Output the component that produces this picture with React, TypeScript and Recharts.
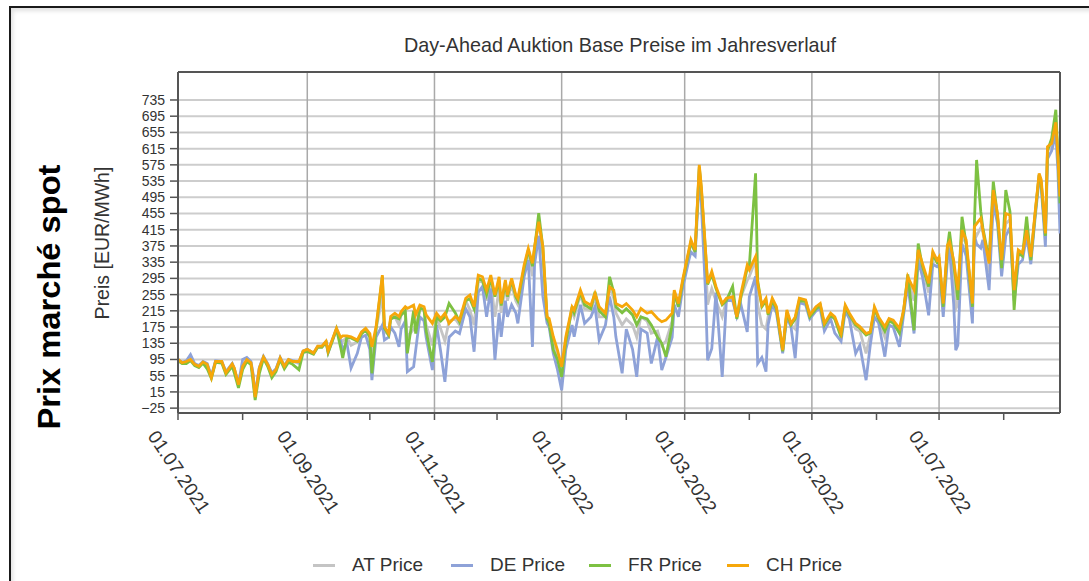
import React from "react";
import {
  LineChart,
  Line,
  XAxis,
  YAxis,
  CartesianGrid,
  ReferenceLine,
} from "recharts";

// days since 01.07.2021
const days = [
  0, 2, 4, 6, 8, 10, 12, 14, 16, 18,
  21, 23, 26, 27, 29, 31, 33, 35, 36, 37,
  39, 41, 43, 45, 47, 49, 51, 53, 55, 58,
  60, 62, 65, 67, 69, 71, 72, 74, 76, 78,
  79, 81, 83, 86, 88, 90, 92, 93, 95, 98,
  99, 101, 102, 104, 106, 107, 109, 110, 113, 114,
  116, 118, 119, 122, 124, 126, 128, 130, 133, 135,
  138, 140, 142, 144, 146, 148, 150, 152, 154, 155,
  157, 158, 160, 162, 163, 166, 168, 170, 171, 173,
  175, 177, 178, 180, 182, 184, 186, 187, 189, 190,
  193, 195, 198, 200, 202, 205, 207, 209, 210, 213,
  215, 218, 220, 222, 225, 227, 230, 232, 234, 237,
  238, 240, 242, 245, 246, 248, 250, 251, 253, 254,
  256, 258, 261, 263, 266, 268, 270, 273, 274, 277,
  278, 280, 282, 283, 285, 287, 290, 292, 294, 296,
  298, 301, 303, 306, 308, 310, 313, 315, 318, 320,
  322, 325, 327, 330, 332, 334, 336, 339, 341, 343,
  346, 348, 350, 353, 355, 357, 360, 362, 364, 365,
  367, 369, 370, 372, 373, 374, 376, 378, 381, 382,
  383, 385, 386, 389, 391, 393, 395, 397, 399, 401,
  403, 405, 407, 409, 411, 413, 414, 416, 417, 419,
  421, 422, 423,
];

const chPrice = [
  95, 87, 90, 95, 83, 78, 89, 83, 50, 90,
  90, 62, 84, 74, 33, 78, 95, 87, 54, 2,
  74, 101, 83, 58, 70, 99, 78, 95, 90, 90,
  116, 120, 111, 128, 128, 140, 116, 144, 172, 149,
  153, 153, 151, 143, 163, 172, 159, 126, 176, 303,
  176, 159, 201, 209, 201, 213, 225, 221, 229, 205,
  229, 225, 205, 184, 209, 196, 209, 184, 201, 192,
  246, 254, 225, 303, 299, 266, 303, 254, 299, 233,
  291, 254, 295, 254, 246, 328, 369, 332, 373, 435,
  373, 200, 196, 151, 118, 77, 151, 176, 225, 217,
  266, 238, 229, 258, 225, 209, 274, 266, 233, 225,
  233, 217, 200, 221, 209, 213, 196, 188, 192, 209,
  266, 233, 291, 365, 390, 365, 575, 521, 365, 283,
  312, 275, 233, 246, 250, 200, 258, 328, 316, 349,
  283, 229, 246, 209, 246, 225, 118, 217, 184, 200,
  246, 242, 205, 225, 233, 184, 209, 200, 159, 229,
  209, 184, 176, 159, 163, 225, 200, 176, 196, 192,
  172, 217, 299, 266, 365, 332, 283, 361, 340, 348,
  233, 377, 386, 340, 300, 266, 414, 390, 233, 423,
  430, 443, 414, 332, 513, 455, 340, 455, 451, 266,
  365, 357, 414, 348, 455, 554, 538, 406, 620, 628,
  680, 595, 497,
];

const frPrice = [
  92, 85, 85, 92, 80, 75, 86, 72, 48, 88,
  86, 58, 78, 62, 25, 70, 90, 82, 40, -5,
  60, 98, 78, 50, 65, 95, 72, 88, 83, 70,
  112, 115, 108, 125, 125, 138, 112, 140, 170, 125,
  99, 150, 148, 140, 158, 168, 150, 61, 170, 300,
  172, 155, 195, 200, 195, 205, 215, 110, 215, 159,
  222, 218, 165, 89, 200, 190, 200, 233, 210, 188,
  240, 245, 220, 295, 290, 255, 295, 250, 290, 228,
  285, 250, 290, 250, 240, 320, 365, 325, 368, 456,
  370, 195, 185, 118, 95, 52, 140, 165, 225, 210,
  260, 230, 220, 262, 215, 200, 299, 260, 225, 210,
  220, 205, 180, 200, 195, 180, 150, 135, 102, 180,
  260, 225, 285, 360, 385, 360, 570, 515, 360, 280,
  305, 270, 230, 240, 275, 195, 250, 320, 325, 554,
  290, 225, 240, 205, 240, 220, 115, 210, 180, 195,
  240, 238, 200, 220, 228, 180, 205, 195, 150, 225,
  205, 180, 172, 155, 160, 220, 195, 165, 190, 185,
  160, 215, 305, 167, 381, 325, 275, 355, 335, 340,
  225, 370, 410, 330, 290, 242, 447, 380, 225, 440,
  587, 460, 420, 340, 534, 450, 320, 513, 460, 217,
  360, 350, 447, 340, 450, 550, 530, 400, 610, 640,
  711, 600, 480,
];

const dePrice = [
  95, 88, 92, 107, 85, 80, 90, 85, 55, 92,
  90, 65, 85, 72, 35, 95, 100, 90, 60, 8,
  75, 103, 85, 62, 72, 100, 80, 95, 92, 88,
  116, 120, 110, 126, 126, 138, 112, 142, 168, 140,
  120, 135, 74, 110, 150, 155, 120, 44, 150, 180,
  143, 150, 175, 160, 126, 170, 190, 65, 77, 118,
  200, 190, 150, 69, 180, 114, 40, 150, 165, 159,
  220, 200, 114, 260, 275, 200, 270, 94, 210, 151,
  240, 200, 230, 210, 184, 299, 340, 126, 330, 400,
  250, 185, 175, 110, 70, 19, 120, 140, 180, 151,
  230, 184, 200, 225, 143, 180, 250, 200, 151, 61,
  170, 120, 52, 170, 160, 85, 150, 69, 100, 150,
  230, 200, 270, 340, 360, 350, 540, 480, 258, 93,
  122, 260, 52, 240, 240, 200, 230, 163, 250, 300,
  85, 100, 65, 180, 230, 210, 110, 200, 175, 98,
  235, 230, 195, 215, 220, 165, 195, 160, 140, 215,
  195, 110, 130, 44, 130, 200, 185, 102, 180, 175,
  126, 205, 280, 159, 340, 300, 204, 330, 324, 330,
  200, 340, 370, 233, 118, 130, 380, 350, 184, 400,
  380, 370, 390, 266, 480, 431, 300, 400, 420, 240,
  330, 340, 400, 330, 440, 540, 520, 373, 590, 610,
  650, 560, 406,
];

const atPrice = [
  95, 87, 90, 98, 83, 78, 89, 82, 52, 90,
  90, 62, 84, 72, 33, 80, 95, 87, 55, 4,
  74, 101, 83, 58, 70, 99, 78, 94, 90, 85,
  116, 120, 111, 128, 128, 140, 116, 144, 172, 145,
  140, 150, 130, 138, 160, 168, 150, 90, 170, 250,
  165, 155, 195, 200, 180, 205, 215, 150, 170, 170,
  220, 215, 180, 130, 200, 170, 140, 190, 195, 180,
  240, 217, 180, 285, 290, 240, 290, 200, 270, 210,
  275, 240, 280, 240, 230, 320, 360, 300, 365, 440,
  350, 195, 190, 140, 105, 60, 145, 170, 215, 200,
  255, 220, 215, 250, 200, 200, 275, 245, 210, 180,
  195, 180, 150, 200, 190, 160, 165, 130, 140, 190,
  255, 225, 285, 360, 380, 360, 565, 505, 340, 230,
  270, 240, 200, 240, 245, 200, 250, 290, 300, 340,
  230, 180, 170, 200, 240, 220, 118, 210, 180, 170,
  245, 240, 205, 225, 230, 180, 205, 195, 155, 225,
  205, 170, 165, 110, 155, 220, 195, 150, 190, 190,
  160, 215, 295, 240, 360, 320, 260, 350, 335, 340,
  230, 360, 380, 300, 220, 230, 400, 380, 220, 410,
  400, 420, 410, 310, 500, 450, 330, 430, 440, 250,
  350, 355, 410, 345, 450, 550, 530, 400, 610, 620,
  680, 590, 470,
];

const yTicks = [
  -25, 15, 55, 95, 135, 175, 215, 255, 295, 335,
  375, 415, 455, 495, 535, 575, 615, 655, 695, 735,
];

// month starts (days since 01.07.2021)
const monthTicks = [0, 31, 62, 92, 123, 153, 184, 215, 243, 274, 304, 335, 365, 396];
const majorTicks = [0, 62, 123, 184, 243, 304, 365];
const majorLabels = [
  "01.07.2021", "01.09.2021", "01.11.2021", "01.01.2022",
  "01.03.2022", "01.05.2022", "01.07.2022",
];

const series = [
  { key: "at", name: "AT Price", color: "#c4c4c4" },
  { key: "de", name: "DE Price", color: "#8ea2d8" },
  { key: "fr", name: "FR Price", color: "#7dc142" },
  { key: "ch", name: "CH Price", color: "#f6a70a" },
];

const table = days.map((d, i) => ({
  day: d,
  at: atPrice[i],
  de: dePrice[i],
  fr: frPrice[i],
  ch: chPrice[i],
}));

const FONT = "'Liberation Sans', Arial, sans-serif";
const TEXT = "#333";

function DateTick(props: any) {
  const { x, y, payload } = props;
  const idx = majorTicks.indexOf(payload.value);
  if (idx < 0) return null;
  return (
    <text
      transform={`translate(${x + 1},${y + 50}) rotate(56)`}
      textAnchor="middle"
      dominantBaseline="central"
      fontSize={19}
      fill={TEXT}
      fontFamily={FONT}
    >
      {majorLabels[idx]}
    </text>
  );
}

export default function App() {
  return (
    <div
      style={{
        position: "absolute",
        left: 0,
        top: 0,
        width: 1089,
        height: 581,
        overflow: "hidden",
        background: "#fff",
        fontFamily: FONT,
      }}
    >
      <div
        style={{
          position: "absolute",
          left: 9,
          top: 6,
          width: 1200,
          height: 700,
          borderTop: "2px solid #1a1a1a",
          borderLeft: "2px solid #1a1a1a",
          boxShadow: "inset 2px 3px 4px rgba(0,0,0,0.12)",
        }}
      />
      <div style={{ position: "absolute", left: 0, top: 0 }}>
        <LineChart
          width={1089}
          height={581}
          data={table}
          margin={{ top: 72, right: 29, bottom: 0, left: 0 }}
        >
          <CartesianGrid
            vertical={false}
            stroke="#cdcdcd"
            strokeWidth={2}
          />
          {majorTicks.slice(1).map((t) => (
            <ReferenceLine key={t} x={t} stroke="#a9a9a9" strokeWidth={1.5} />
          ))}
          <ReferenceLine y={804} stroke="#555" strokeWidth={2} />
          <ReferenceLine x={423} stroke="#555" strokeWidth={2} />
          <XAxis
            dataKey="day"
            type="number"
            domain={[0, 423]}
            ticks={monthTicks}
            interval={0}
            allowDataOverflow
            height={168}
            tickSize={7}
            tick={<DateTick />}
            axisLine={{ stroke: "#555", strokeWidth: 2 }}
            tickLine={{ stroke: "#555", strokeWidth: 1.5 }}
          />
          <YAxis
            type="number"
            domain={[-37, 804]}
            ticks={yTicks}
            interval={0}
            allowDataOverflow
            width={178}
            tickSize={8}
            tickMargin={5}
            tick={{ fontSize: 14, fill: TEXT, fontFamily: FONT }}
            tickFormatter={(v: number) => String(v).replace("-", "\u2212")}
            axisLine={{ stroke: "#555", strokeWidth: 2 }}
            tickLine={{ stroke: "#555", strokeWidth: 1.5 }}
          />
          {series.map((s) => (
            <Line
              key={s.key}
              type="linear"
              dataKey={s.key}
              name={s.name}
              stroke={s.color}
              strokeWidth={2.8}
              dot={false}
              isAnimationActive={false}
            />
          ))}
        </LineChart>
      </div>
      <svg
        width={1089}
        height={581}
        style={{ position: "absolute", left: 0, top: 0, pointerEvents: "none" }}
      >
        <text
          x={620}
          y={45}
          textAnchor="middle"
          dominantBaseline="central"
          fontSize={19.8}
          fill={TEXT}
          fontFamily={FONT}
        >
          Day-Ahead Auktion Base Preise im Jahresverlauf
        </text>
        <text
          transform="translate(109,243) rotate(-90)"
          textAnchor="middle"
          fontSize={19.5}
          fill={TEXT}
          fontFamily={FONT}
        >
          Preis [EUR/MWh]
        </text>
        <text
          transform="translate(60,297) rotate(-90)"
          textAnchor="middle"
          fontSize={32}
          fontWeight="bold"
          fill="#000"
          fontFamily={FONT}
          textLength={265}
          lengthAdjust="spacingAndGlyphs"
        >
          Prix marché spot
        </text>
      </svg>
      <div
        style={{
          position: "absolute",
          left: 313,
          top: 552,
          display: "flex",
          alignItems: "center",
          height: 26,
        }}
      >
        {series.map((s) => (
          <div
            key={s.key}
            style={{ width: 138, display: "flex", alignItems: "center" }}
          >
            <span
              style={{
                display: "inline-block",
                width: 22,
                height: 3,
                background: s.color,
                marginRight: 17,
              }}
            />
            <span style={{ fontSize: 19, color: TEXT }}>{s.name}</span>
          </div>
        ))}
      </div>
    </div>
  );
}
